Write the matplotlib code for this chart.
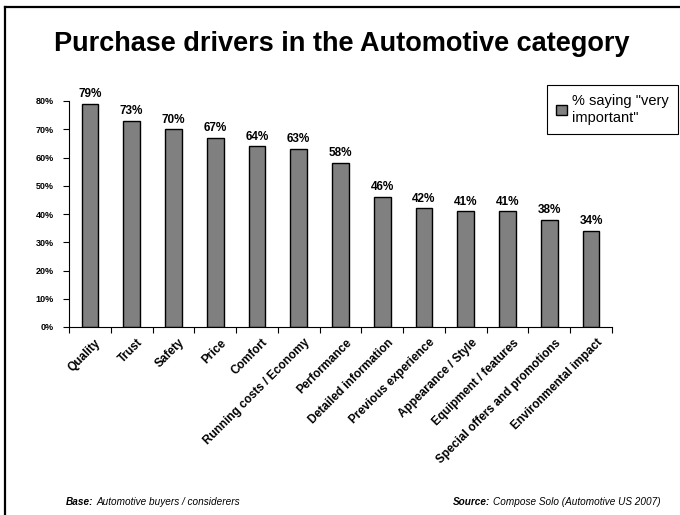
import matplotlib
matplotlib.use("Agg")
import matplotlib.pyplot as plt
from matplotlib.lines import Line2D
from matplotlib.ticker import PercentFormatter
from matplotlib.transforms import ScaledTranslation

plt.rcParams['font.family'] = ['Liberation Sans', 'DejaVu Sans']

drivers = ["Quality", "Trust", "Safety", "Price", "Comfort",
           "Running costs / Economy", "Performance", "Detailed information",
           "Previous experience", "Appearance / Style", "Equipment / features",
           "Special offers and promotions", "Environmental impact"]
very_important = [79, 73, 70, 67, 64, 63, 58, 46, 42, 41, 41, 38, 34]
y_ticks = [0, 10, 20, 30, 40, 50, 60, 70, 80]

fig = plt.figure(figsize=(6.8, 5.15), dpi=100)
ax = fig.add_axes([69 / 680, 1 - 327 / 515, 543 / 680, 226 / 515])

x = range(len(drivers))
bars = ax.bar(x, very_important, width=0.4, color="#808080",
              edgecolor="black", linewidth=1, label='% saying "very\nimportant"')

for b, v in zip(bars, very_important):
    ax.text(b.get_x() + b.get_width() / 2, v + 1.3, f"{v}%", ha="center",
            va="bottom", fontsize=8.5, fontweight="bold")

ax.set_xlim(-0.5, len(drivers) - 0.5)
ax.set_ylim(0, 80)
ax.set_yticks(y_ticks)
ax.yaxis.set_major_formatter(PercentFormatter(decimals=0))
ax.tick_params(axis="y", labelsize=6.5, length=4, width=0.8, pad=7)
for lbl in ax.get_yticklabels():
    lbl.set_fontweight("bold")

# category labels at the bar centres, tick marks between the bars
ax.set_xticks(list(x))
ax.set_xticklabels(drivers, rotation=45, ha="right", rotation_mode="anchor",
                   fontsize=8.5, fontweight="bold")
ax.tick_params(axis="x", which="major", length=0, pad=7)
shift = ScaledTranslation(5 / 100, 0, fig.dpi_scale_trans)
for lbl in ax.get_xticklabels():
    lbl.set_transform(lbl.get_transform() + shift)
ax.set_xticks([i + 0.5 for i in range(-1, len(drivers))], minor=True)
ax.tick_params(axis="x", which="minor", length=4, width=0.8)

for side in ("top", "right"):
    ax.spines[side].set_visible(False)
for side in ("left", "bottom"):
    ax.spines[side].set_linewidth(0.8)

fig.text(342 / 680, 1 - 44 / 515, "Purchase drivers in the Automotive category",
         ha="center", va="center", fontsize=19.5, fontweight="bold")

leg = fig.legend(handles=[bars], loc="upper right",
                 bbox_to_anchor=(678 / 680, 1 - 85 / 515), fontsize=10.5,
                 fancybox=False, framealpha=1, edgecolor="black",
                 handlelength=0.75, handleheight=0.75, handletextpad=0.3,
                 borderpad=0.65, borderaxespad=0)
leg.get_frame().set_linewidth(0.8)

# footnotes: bold italic lead-in followed by italic text
renderer = fig.canvas.get_renderer()


def footnote(x0, head, body):
    t = fig.text(x0 / 680, 1 - 502 / 515, head, fontsize=7.2,
                 fontweight="bold", style="italic", va="center")
    w = t.get_window_extent(renderer).width
    fig.text((x0 + w + 3) / 680, 1 - 502 / 515, body, fontsize=7.2,
             style="italic", va="center")


footnote(66, "Base:", "Automotive buyers / considerers")
footnote(453, "Source:", "Compose Solo (Automotive US 2007)")

# page frame on the left and top
fig.add_artist(Line2D([5 / 680, 5 / 680], [0, 1 - 7 / 515], color="black",
                      linewidth=1.6, transform=fig.transFigure))
fig.add_artist(Line2D([5 / 680, 1], [1 - 7 / 515, 1 - 7 / 515], color="black",
                      linewidth=1.6, transform=fig.transFigure))

fig.savefig("out.png", dpi=100)
